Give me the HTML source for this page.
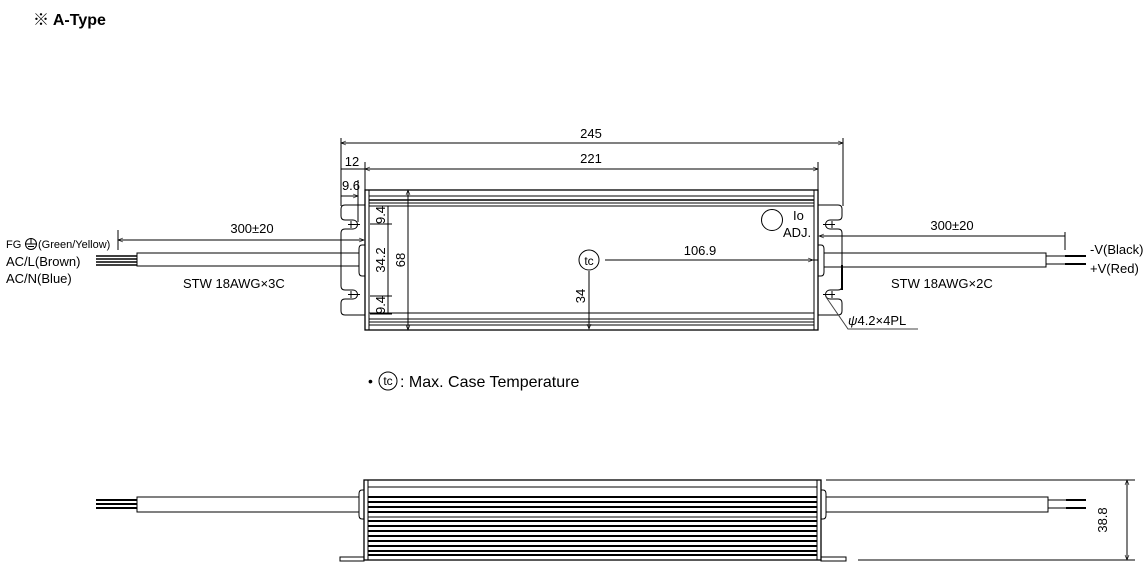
<!DOCTYPE html>
<html><head><meta charset="utf-8"><style>
html,body{margin:0;padding:0;background:#fff;}
svg{display:block;font-family:"Liberation Sans","Noto Sans CJK JP",sans-serif;}
</style></head><body>
<svg width="1148" height="577" viewBox="0 0 1148 577" xmlns="http://www.w3.org/2000/svg">
<defs>
<marker id="a" viewBox="0 0 10 10" refX="10" refY="5" markerWidth="7" markerHeight="5" orient="auto-start-reverse" markerUnits="userSpaceOnUse"><path d="M0,1 L10,5 L0,9" fill="none" stroke="#000" stroke-width="1.2"/></marker>
</defs>
<text x="33" y="25" font-size="16" font-weight="bold" fill="#000">※ A-Type</text>

<g stroke="#000" fill="none" stroke-width="1">
<line x1="341" y1="138" x2="341" y2="206"/>
<line x1="843" y1="138" x2="843" y2="206"/>
<line x1="341" y1="143" x2="843" y2="143" marker-start="url(#a)" marker-end="url(#a)"/>
<line x1="365" y1="162" x2="365" y2="190"/>
<line x1="818" y1="162" x2="818" y2="190"/>
<line x1="365" y1="169" x2="818" y2="169" marker-start="url(#a)" marker-end="url(#a)"/>
<line x1="341" y1="169" x2="365" y2="169"/>
<line x1="341" y1="196" x2="358" y2="196" marker-end="url(#a)"/>
<line x1="358" y1="180" x2="358" y2="222"/>

<rect x="365" y="190" width="453" height="140" stroke-width="1.3"/>
<line x1="369" y1="190" x2="369" y2="330"/>
<line x1="814" y1="190" x2="814" y2="330"/>
<line x1="369" y1="196" x2="814" y2="196"/>
<line x1="369" y1="200" x2="814" y2="200" stroke-width="1.5"/>
<line x1="369" y1="203" x2="814" y2="203"/>
<line x1="369" y1="206" x2="814" y2="206"/>
<line x1="369" y1="313" x2="814" y2="313"/>
<line x1="369" y1="319" x2="814" y2="319"/>
<line x1="369" y1="322" x2="814" y2="322"/>
<line x1="369" y1="325" x2="814" y2="325"/>

<path d="M365,205 L345,205 Q341,205 341,209 L341,216 Q341,220 345,220 L353,220 A4.5,4.5 0 0 1 353,229 L345,229 Q341,229 341,233 L341,286 Q341,290 345,290 L353,290 A4.5,4.5 0 0 1 353,299 L345,299 Q341,299 341,303 L341,311 Q341,315 345,315 L365,315"/>
<line x1="351" y1="221" x2="351" y2="228"/><line x1="348" y1="224.5" x2="360" y2="224.5"/>
<line x1="351" y1="291" x2="351" y2="298"/><line x1="348" y1="294.5" x2="360" y2="294.5"/>
<path d="M365,245 L362,245 Q359,245 359,249 L359,272 Q359,276 362,276 L365,276"/>
<path d="M818,205 L838,205 Q842,205 842,209 L842,216 Q842,220 838,220 L830,220 A4.5,4.5 0 0 0 830,229 L838,229 Q842,229 842,233 L842,286 Q842,290 838,290 L830,290 A4.5,4.5 0 0 0 830,299 L838,299 Q842,299 842,303 L842,311 Q842,315 838,315 L818,315"/>
<line x1="832" y1="221" x2="832" y2="228"/><line x1="823" y1="224.5" x2="835" y2="224.5"/>
<line x1="832" y1="291" x2="832" y2="298"/><line x1="823" y1="294.5" x2="835" y2="294.5"/>
<path d="M818,245 L821,245 Q824,245 824,249 L824,272 Q824,276 821,276 L818,276"/>
<line x1="842" y1="265" x2="842" y2="290" stroke-width="2"/>

<line x1="370" y1="206" x2="392" y2="206"/>
<line x1="370" y1="224" x2="392" y2="224"/>
<line x1="370" y1="296" x2="392" y2="296"/>
<line x1="370" y1="314" x2="392" y2="314"/>
<line x1="388" y1="206" x2="388" y2="314"/>
<line x1="408" y1="190" x2="408" y2="330" marker-start="url(#a)" marker-end="url(#a)"/>
<circle cx="589" cy="260" r="10"/>
<line x1="605" y1="260" x2="813" y2="260" marker-end="url(#a)"/>
<line x1="589" y1="271" x2="589" y2="329" marker-end="url(#a)"/>
<circle cx="772" cy="220" r="10.5"/>

<line x1="118" y1="230" x2="118" y2="250"/>
<line x1="118" y1="240" x2="364" y2="240" marker-start="url(#a)" marker-end="url(#a)"/>
<rect x="137" y="253" width="222" height="13"/>
<line x1="137" y1="256" x2="137" y2="263"/>
<g stroke-width="1.6"><line x1="96" y1="256" x2="137" y2="256"/><line x1="96" y1="259" x2="137" y2="259"/><line x1="96" y1="262" x2="137" y2="262"/><line x1="96" y1="265" x2="137" y2="265"/></g>
<line x1="1065" y1="232" x2="1065" y2="250"/>
<line x1="819" y1="236" x2="1065" y2="236" marker-start="url(#a)"/>
<line x1="800" y1="260" x2="818" y2="260"/>
<rect x="824" y="253" width="222" height="14"/>
<line x1="1046" y1="256" x2="1065" y2="256"/><line x1="1046" y1="264" x2="1065" y2="264"/>
<g stroke-width="2"><line x1="1065" y1="256" x2="1086" y2="256"/><line x1="1065" y1="264" x2="1086" y2="264"/></g>
<path d="M826,297 L848,329 L918,329" stroke="#444"/>
<circle cx="31" cy="244" r="5.5"/>
<line x1="25.5" y1="244" x2="36.5" y2="244"/><line x1="28" y1="246.5" x2="34" y2="246.5"/><line x1="31" y1="238.5" x2="31" y2="244"/>

<circle cx="388" cy="381" r="9"/>

<rect x="364" y="480" width="457" height="80" stroke-width="1.3"/>
<line x1="368" y1="480" x2="368" y2="560"/>
<line x1="817" y1="480" x2="817" y2="560"/>
<line x1="368" y1="487" x2="817" y2="487"/>
<g stroke-width="2">
<line x1="368" y1="497" x2="817" y2="497"/>
<line x1="368" y1="502" x2="817" y2="502"/>
<line x1="368" y1="507" x2="817" y2="507"/>
<line x1="368" y1="512" x2="817" y2="512"/>
<line x1="368" y1="521" x2="817" y2="521"/>
<line x1="368" y1="526" x2="817" y2="526"/>
<line x1="368" y1="531" x2="817" y2="531"/>
<line x1="368" y1="536" x2="817" y2="536"/>
<line x1="368" y1="541" x2="817" y2="541"/>
<line x1="368" y1="546" x2="817" y2="546"/>
<line x1="368" y1="551" x2="817" y2="551"/>
<line x1="368" y1="555" x2="817" y2="555"/>
</g>
<line x1="368" y1="517" x2="817" y2="517"/>
<rect x="340" y="557" width="24" height="4"/>
<rect x="821" y="557" width="25" height="4"/>
<path d="M364,490 L362,490 Q359,490 359,494 L359,515 Q359,519 362,519 L364,519"/>
<path d="M821,490 L823,490 Q826,490 826,494 L826,515 Q826,519 823,519 L821,519"/>
<rect x="137" y="497" width="222" height="15"/>
<g stroke-width="2"><line x1="96" y1="500" x2="137" y2="500"/><line x1="96" y1="504" x2="137" y2="504"/><line x1="96" y1="508" x2="137" y2="508"/></g>
<rect x="826" y="497" width="222" height="15"/>
<line x1="1048" y1="500" x2="1066" y2="500"/><line x1="1048" y1="508" x2="1066" y2="508"/>
<g stroke-width="2"><line x1="1066" y1="500" x2="1086" y2="500"/><line x1="1066" y1="508" x2="1086" y2="508"/></g>
<line x1="826" y1="480" x2="1135" y2="480"/>
<line x1="858" y1="560" x2="1135" y2="560"/>
<line x1="1127" y1="480" x2="1127" y2="560" marker-start="url(#a)" marker-end="url(#a)"/>
</g>

<g fill="#000" font-size="13">
<text x="591" y="138" text-anchor="middle">245</text>
<text x="591" y="163" text-anchor="middle">221</text>
<text x="352" y="166" text-anchor="middle">12</text>
<text x="351" y="190" text-anchor="middle">9.6</text>
<text transform="translate(385,215) rotate(-90)" text-anchor="middle">9.4</text>
<text transform="translate(385,305) rotate(-90)" text-anchor="middle">9.4</text>
<text transform="translate(385,260) rotate(-90)" text-anchor="middle">34.2</text>
<text transform="translate(405,260) rotate(-90)" text-anchor="middle">68</text>
<text transform="translate(585,296) rotate(-90)" text-anchor="middle">34</text>
<text x="589" y="265" text-anchor="middle" font-size="12">tc</text>
<text x="700" y="255" text-anchor="middle">106.9</text>
<text x="793" y="220" font-size="13">Io</text>
<text x="783" y="237" font-size="13">ADJ.</text>
<text x="252" y="233" text-anchor="middle">300±20</text>
<text x="952" y="230" text-anchor="middle">300±20</text>
<text x="183" y="288">STW 18AWG×3C</text>
<text x="891" y="288">STW 18AWG×2C</text>
<text x="6" y="248" font-size="11">FG</text>
<text x="38" y="248" font-size="11">(Green/Yellow)</text>
<text x="6" y="266" font-size="13">AC/L(Brown)</text>
<text x="6" y="283" font-size="13">AC/N(Blue)</text>
<text x="1090" y="254" font-size="13">-V(Black)</text>
<text x="1090" y="273" font-size="13">+V(Red)</text>
<text x="848" y="325" font-size="13"><tspan font-style="italic">ψ</tspan>4.2×4PL</text>
<text x="368" y="386" font-size="14">•</text>
<text x="388" y="385" text-anchor="middle" font-size="12">tc</text>
<text x="400" y="387" font-size="16">: Max. Case Temperature</text>
<text transform="translate(1107,520) rotate(-90)" text-anchor="middle">38.8</text>
</g>
</svg>
</body></html>
